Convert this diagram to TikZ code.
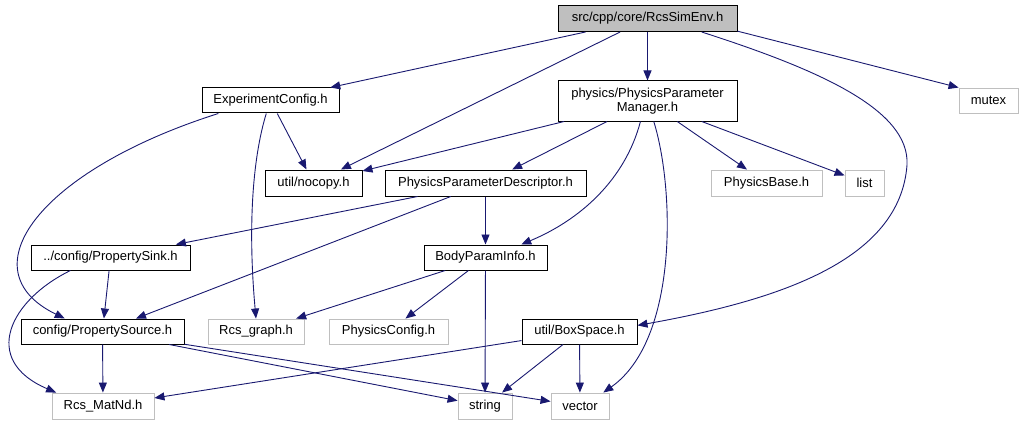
\documentclass[tikz,border=0pt]{standalone}
\usepackage{fontspec}
\newfontfamily\doxfont{Liberation Sans}
\usepackage{tikz}
\usetikzlibrary{arrows.meta, calc}
\definecolor{edgeblue}{HTML}{191970}
\definecolor{rootgray}{HTML}{BFBFBF}
\tikzset{
    hdr/.style={rectangle, draw=black, line width=1pt, fill=white, inner sep=0pt, align=center, font=\doxfont\fontsize{13}{14.5}\selectfont},
    syshdr/.style={hdr, draw=rootgray, line width=0.9pt},
    inc/.style={draw=edgeblue, line width=0.9pt, -{Triangle[length=10pt, width=8pt]}}
}
\begin{document}
\begin{tikzpicture}[x=1pt, y=-1pt]
        \useasboundingbox (0,0) rectangle (1024,425);
        % Headers
        \node (root) at (647.5,18.5) [hdr, fill=rootgray, minimum width=179, minimum height=26] {src/cpp/core/RcsSimEnv.h};
        \node (exp) at (270.5,100.5) [hdr, minimum width=137, minimum height=25] {ExperimentConfig.h};
        \node (ppm) at (647.5,101) [hdr, minimum width=179, minimum height=40] {physics/PhysicsParameter\\Manager.h};
        \node (mutex) at (988.5,100.5) [syshdr, minimum width=59, minimum height=25] {mutex};
        \node (nocopy) at (313.5,183) [hdr, minimum width=97, minimum height=26] {util/nocopy.h};
        \node (ppd) at (485.5,183) [hdr, minimum width=201, minimum height=26] {PhysicsParameterDescriptor.h};
        \node (pbase) at (766.5,183) [syshdr, minimum width=111, minimum height=26] {PhysicsBase.h};
        \node (list) at (864.5,183) [syshdr, minimum width=39, minimum height=26] {list};
        \node (sink) at (110.5,257.5) [hdr, minimum width=159, minimum height=25] {../config/PropertySink.h};
        \node (body) at (485.5,257.5) [hdr, minimum width=123, minimum height=25] {BodyParamInfo.h};
        \node (src) at (102.5,331.5) [hdr, minimum width=163, minimum height=25] {config/PropertySource.h};
        \node (rcsgraph) at (256,331.5) [syshdr, minimum width=96, minimum height=25] {Rcs\_graph.h};
        \node (pconf) at (388.5,331.5) [syshdr, minimum width=119, minimum height=25] {PhysicsConfig.h};
        \node (boxsp) at (579.5,331.5) [hdr, minimum width=115, minimum height=25] {util/BoxSpace.h};
        \node (matnd) at (103,406) [syshdr, minimum width=102, minimum height=26] {Rcs\_MatNd.h};
        \node (string) at (485,406) [syshdr, minimum width=54, minimum height=26] {string};
        \node (vector) at (580,406) [syshdr, minimum width=58, minimum height=26] {vector};

        % Includes of RcsSimEnv.h
        \draw[inc] (root) -- (exp);
        \draw[inc] (root) -- (nocopy);
        \draw[inc] (root) -- (ppm);
        \draw[inc] (root.-8) -- (mutex.north west);
        \draw[inc] (root.-14) .. controls (820,70) and (910,110) .. (907,165)
            .. controls (900,260) and (780,300) .. (boxsp.6);

        % Includes of ExperimentConfig.h
        \draw[inc] (exp) -- (nocopy);
        \draw[inc] (exp.-108) .. controls (252,160) and (248,230) .. (rcsgraph.north);
        \draw[inc] (exp.-166) .. controls (40,170) and (-35,270) .. (src.161);

        % Includes of PhysicsParameterManager.h
        \draw[inc] (ppm) -- (nocopy);
        \draw[inc] (ppm) -- (ppd);
        \draw[inc] (ppm.-109) .. controls (625,180) and (580,220) .. (body.20);
        \draw[inc] (ppm.-73) .. controls (675,190) and (678,340) .. (vector.30);
        \draw[inc] (ppm) -- (pbase);
        \draw[inc] (ppm) -- (list);

        % Includes of PhysicsParameterDescriptor.h
        \draw[inc] (ppd) -- (sink);
        \draw[inc] (ppd) -- (src);
        \draw[inc] (ppd) -- (body);

        % Includes of PropertySink.h
        \draw[inc] (sink) -- (src);
        \draw[inc] (sink.-162) .. controls (10,300) and (-20,360) .. (matnd.164);

        % Includes of BodyParamInfo.h
        \draw[inc] (body) -- (rcsgraph);
        \draw[inc] (body) -- (pconf);
        \draw[inc] (body) -- (string);

        % Includes of PropertySource.h
        \draw[inc] (src) -- (matnd);
        \draw[inc] (src) -- (string);
        \draw[inc] (src) -- (vector);

        % Includes of BoxSpace.h
        \draw[inc] (boxsp) -- (matnd);
        \draw[inc] (boxsp) -- (string);
        \draw[inc] (boxsp) -- (vector);
    \end{tikzpicture}
\end{document}
